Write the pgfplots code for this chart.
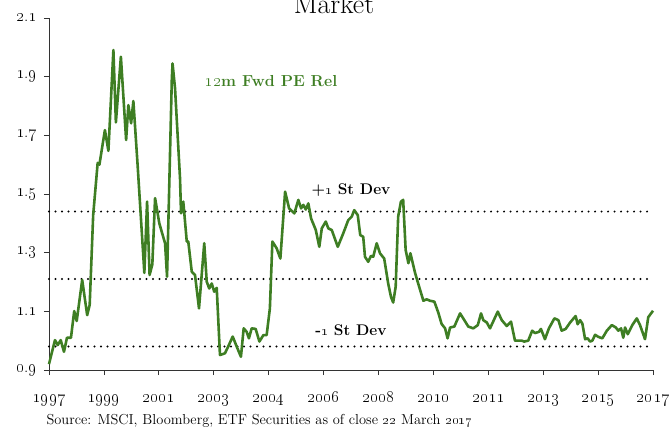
\documentclass[border=0pt]{standalone}
\usepackage{pgfplots}
\pgfplotsset{compat=1.18}
\definecolor{pegreen}{RGB}{62,126,35}
\newcommand{\osn}[1]{\oldstylenums{#1}}
\begin{document}
\begin{tikzpicture}
\begin{axis}[
  at={(0,0)}, anchor=south west,
  width=604bp, height=352bp, scale only axis,
  xmin=0, xmax=242, ymin=0.9, ymax=2.1,
  axis x line*=bottom, axis y line*=left,
  xtick={0,22,44,66,88,110,132,154,176,198,220,242},
  xticklabels={\osn{1997},\osn{1999},\osn{2001},\osn{2003},\osn{2004},\osn{2006},\osn{2008},\osn{2010},\osn{2011},\osn{2013},\osn{2015},\osn{2017}},
  ytick={0.9,1.1,1.3,1.5,1.7,1.9,2.1},
  yticklabels={\osn{0}.\osn{9},\osn{1}.\osn{1},\osn{1}.\osn{3},\osn{1}.\osn{5},\osn{1}.\osn{7},\osn{1}.\osn{9},\osn{2}.\osn{1}},
  tick align=outside, major tick length=5bp,
  tick style={black!80, line width=0.7bp},
  axis line style={black!80, line width=0.9bp},
  ticklabel style={font=\fontsize{17}{19}\selectfont},
  xticklabel style={anchor=base, yshift=-27bp},
  yticklabel style={xshift=-4bp},
  clip=false,
]
\addplot[black, line width=2.2bp, line cap=round, dash pattern=on 0pt off 6.5bp] coordinates {(0,1.44) (242,1.44)};
\addplot[black, line width=2.2bp, line cap=round, dash pattern=on 0pt off 6.5bp] coordinates {(0,1.21) (242,1.21)};
\addplot[black, line width=2.2bp, line cap=round, dash pattern=on 0pt off 6.5bp] coordinates {(0,0.98) (242,0.98)};
\addplot[pegreen, line width=2.6bp, line join=round] table {
x y
0 0.92
2.4 1.002
3.5 0.985
4.7 1.002
6.0 0.962
7.2 1.01
8.8 1.01
10.1 1.101
11.1 1.067
13.3 1.207
15.3 1.087
16.3 1.122
17.7 1.428
19.5 1.606
20.2 1.60
22.4 1.718
23.8 1.647
25.8 1.991
26.8 1.744
28.8 1.968
30.9 1.684
31.8 1.803
32.9 1.741
33.8 1.817
35.5 1.599
38.2 1.231
39.3 1.474
40.3 1.224
41.4 1.26
42.5 1.486
44.2 1.40
46.5 1.332
47.3 1.218
49.2 1.889
49.5 1.945
50.5 1.86
52.5 1.553
52.9 1.434
53.8 1.474
55.2 1.338
55.8 1.338
57.2 1.235
58.5 1.224
60.1 1.11
62.2 1.332
63.2 1.201
64.2 1.178
65.2 1.195
66.2 1.167
67.2 1.18
68.5 0.951
70.5 0.957
71.8 0.98
73.6 1.014
75.2 0.98
76.9 0.945
78.0 1.042
79.2 1.03
80.1 1.008
81.2 1.042
82.8 1.04
84.3 0.997
85.9 1.019
87.2 1.019
88.5 1.11
89.5 1.338
91.2 1.315
92.7 1.28
94.6 1.508
96.2 1.451
98.3 1.434
99.9 1.48
101.0 1.451
101.9 1.463
102.9 1.447
103.9 1.468
105.0 1.417
106.9 1.377
108.3 1.32
109.3 1.383
110.9 1.406
111.9 1.383
113.3 1.377
115.7 1.32
117.9 1.366
119.9 1.411
121.3 1.423
122.3 1.445
123.7 1.428
124.7 1.36
125.9 1.354
126.6 1.286
127.9 1.269
129.0 1.289
129.9 1.286
131.3 1.332
132.6 1.298
134.3 1.28
135.9 1.195
137.0 1.15
137.9 1.13
138.9 1.184
139.9 1.423
141.0 1.474
141.9 1.48
142.9 1.309
144.0 1.264
144.8 1.298
146.7 1.23
148.3 1.184
150.0 1.136
151.3 1.141
152.7 1.136
154.4 1.133
156.0 1.095
157.3 1.057
158.7 1.042
159.7 1.008
160.7 1.045
162.4 1.048
164.7 1.093
166.4 1.07
168.0 1.048
170.0 1.042
171.8 1.053
173.1 1.093
174.0 1.07
175.4 1.062
176.7 1.042
179.8 1.099
181.4 1.07
183.4 1.05
185.1 1.065
186.7 1.0
188.3 1.0
189.4 1.0
190.4 0.997
192.0 1.0
193.6 1.034
194.7 1.026
196.3 1.03
197.1 1.04
198.7 1.005
200.3 1.042
202.5 1.076
204.1 1.07
205.4 1.034
207.0 1.04
208.8 1.062
211.0 1.084
211.8 1.056
212.8 1.07
213.7 1.058
214.8 1.005
215.8 1.008
216.8 0.997
217.7 1.0
218.8 1.02
220.1 1.013
221.7 1.008
223.5 1.034
225.5 1.053
227.1 1.045
228.1 1.034
229.2 1.042
230.1 1.01
230.8 1.045
231.9 1.022
233.7 1.053
235.5 1.076
236.8 1.053
238.8 1.005
240.1 1.08
242.0 1.102
};
\node[pegreen, font=\bfseries\fontsize{16}{19}\selectfont, anchor=base] at (axis cs:89,1.868) {\osn{12}m Fwd PE Rel};
\node[black, font=\bfseries\fontsize{15.5}{18}\selectfont, anchor=base] at (axis cs:121,1.497) {+\osn{1} St Dev};
\node[black, font=\bfseries\fontsize{15.5}{18}\selectfont, anchor=base] at (axis cs:121,1.016) {-\osn{1} St Dev};
\node[font=\fontsize{28}{32}\selectfont, anchor=base] at (rel axis cs:0.5,1) [xshift=-17bp, yshift=4bp] {Market};
\node[font=\fontsize{14.5}{17}\selectfont, anchor=base west] at (rel axis cs:0,0) [xshift=-6bp, yshift=-54bp] {Source: MSCI, Bloomberg, ETF Securities as of close \osn{22} March \osn{2017}};
\end{axis}
\pgfresetboundingbox
\path[use as bounding box] (-49bp,-57bp) rectangle (622bp,370bp);
\end{tikzpicture}
\end{document}
